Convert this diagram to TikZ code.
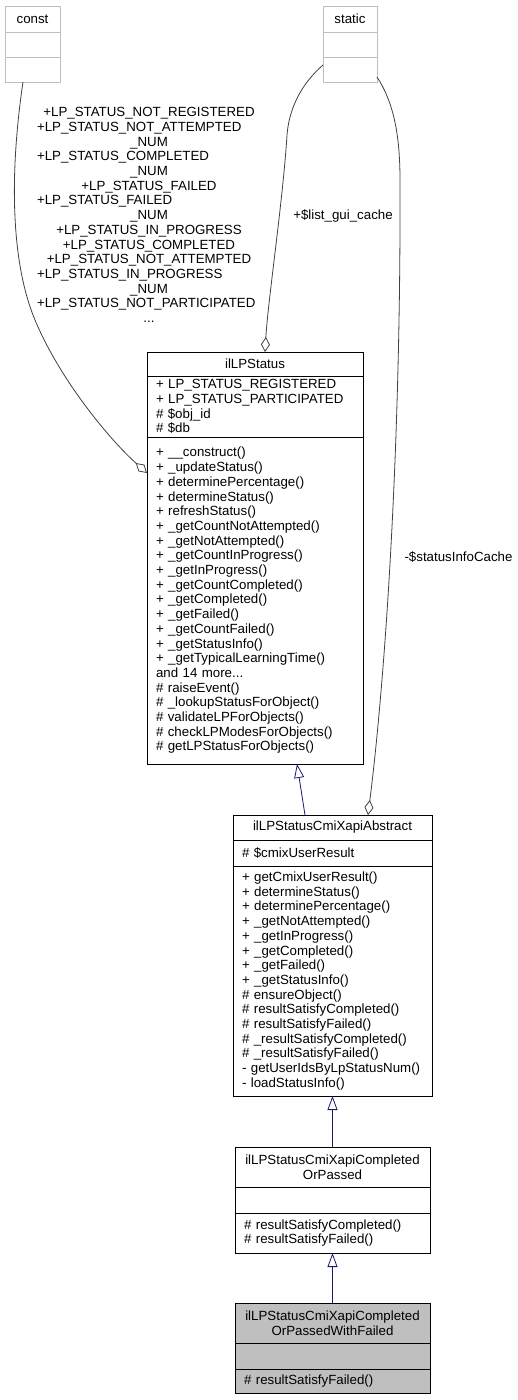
\documentclass[tikz,border=0pt]{standalone}
\usepackage{fontspec}
\setmainfont{Liberation Sans}
\usetikzlibrary{positioning,arrows.meta}
\definecolor{edgegray}{HTML}{404040}
\definecolor{inhblue}{HTML}{191970}
\definecolor{boxgray}{HTML}{BFBFBF}
\newcommand{\lft}[1]{\makebox[224pt][l]{#1}}
\tikzset{%
  part/.style    = {draw, rectangle, inner xsep=9pt, inner ysep=1pt, outer sep=0pt,
    align=left, font=\fontsize{13.3}{14.7}\selectfont},
  head/.style    = {part, align=center}, % class name
  ext/.style     = {draw=boxgray, rectangle, inner sep=0pt, outer sep=0pt,
    font=\fontsize{13.3}{14.7}\selectfont},
  lbl/.style     = {inner sep=0pt, font=\fontsize{13.3}{14.7}\selectfont},
  inherit/.style = {draw=inhblue, -{Triangle[open, length=14pt, width=10pt]}},
  aggr/.style    = {draw=edgegray, -{Diamond[open, length=15pt, width=9pt]}}
}
\begin{document}
\begin{tikzpicture}[x=1pt, y=-1pt, node distance=0pt, line width=0.8pt]
\useasboundingbox (0,0) rectangle (518,1400);
\draw
	node at(32.5,6)[ext, anchor=north, minimum width=55pt, minimum height=26pt, name=constT]{const}
	node [ext, minimum width=55pt, minimum height=25pt, below=of constT, name=constA]{}
	node [ext, minimum width=55pt, minimum height=25pt, below=of constA, name=constM]{};
\draw
	node at(350,6)[ext, anchor=north, minimum width=54pt, minimum height=26pt, name=staticT]{static}
	node [ext, minimum width=54pt, minimum height=25pt, below=of staticT, name=staticA]{}
	node [ext, minimum width=54pt, minimum height=25pt, below=of staticA, name=staticM]{};
\draw
	node at(255,352)[head, text width=198pt, minimum height=24pt, anchor=north, name=statusT]{ilLPStatus}
	node [part, text width=198pt, minimum height=61pt, below=of statusT, name=statusA]{+ LP\_STATUS\_REGISTERED\\+ LP\_STATUS\_PARTICIPATED\\\# \$obj\_id\\\# \$db}
	node [part, text width=198pt, minimum height=327pt, below=of statusA, name=statusM]{+ \_\_construct()\\+ \_updateStatus()\\+ determinePercentage()\\+ determineStatus()\\+ refreshStatus()\\+ \_getCountNotAttempted()\\+ \_getNotAttempted()\\+ \_getCountInProgress()\\+ \_getInProgress()\\+ \_getCountCompleted()\\+ \_getCompleted()\\+ \_getFailed()\\+ \_getCountFailed()\\+ \_getStatusInfo()\\+ \_getTypicalLearningTime()\\and 14 more...\\\# raiseEvent()\\\# \_lookupStatusForObject()\\\# validateLPForObjects()\\\# checkLPModesForObjects()\\\# getLPStatusForObjects()};
\draw
	node at(332.5,815)[head, text width=181pt, minimum height=25pt, anchor=north, name=absT]{ilLPStatusCmiXapiAbstract}
	node [part, text width=181pt, minimum height=26pt, below=of absT, name=absA]{\# \$cmixUserResult}
	node [part, text width=181pt, minimum height=230pt, below=of absA, name=absM]{+ getCmixUserResult()\\+ determineStatus()\\+ determinePercentage()\\+ \_getNotAttempted()\\+ \_getInProgress()\\+ \_getCompleted()\\+ \_getFailed()\\+ \_getStatusInfo()\\\# ensureObject()\\\# resultSatisfyCompleted()\\\# resultSatisfyFailed()\\\# \_resultSatisfyCompleted()\\\# \_resultSatisfyFailed()\\- getUserIdsByLpStatusNum()\\- loadStatusInfo()};
\draw
	node at(332.5,1147)[head, text width=177pt, minimum height=40pt, anchor=north, name=copT]{ilLPStatusCmiXapiCompleted\\OrPassed}
	node [part, text width=177pt, minimum height=26pt, below=of copT, name=copA]{}
	node [part, text width=177pt, minimum height=40pt, below=of copA, name=copM]{\# resultSatisfyCompleted()\\\# resultSatisfyFailed()};
\draw
	node at(332.5,1303)[head, fill=boxgray, text width=177pt, minimum height=40pt, anchor=north, name=finT]{ilLPStatusCmiXapiCompleted\\OrPassedWithFailed}
	node [part, fill=boxgray, text width=177pt, minimum height=26pt, below=of finT, name=finA]{}
	node [part, fill=boxgray, text width=177pt, minimum height=24pt, below=of finA, name=finM]{\# resultSatisfyFailed()};
% member labels
\node [lbl, text width=224pt, align=center, name=constlbl] at (149,215) {+LP\_STATUS\_NOT\_REGISTERED\\\lft{+LP\_STATUS\_NOT\_ATTEMPTED}\\\_NUM\\\lft{+LP\_STATUS\_COMPLETED}\\\_NUM\\+LP\_STATUS\_FAILED\\\lft{+LP\_STATUS\_FAILED}\\\_NUM\\+LP\_STATUS\_IN\_PROGRESS\\+LP\_STATUS\_COMPLETED\\+LP\_STATUS\_NOT\_ATTEMPTED\\\lft{+LP\_STATUS\_IN\_PROGRESS}\\\_NUM\\\lft{+LP\_STATUS\_NOT\_PARTICIPATED}\\...};
\node [lbl, name=listlbl] at (343,216) {+\$list\_gui\_cache};
\node [lbl, name=cachelbl] at (458.5,557) {-\$statusInfoCache};
% usage
\draw[aggr] ([xshift=-9.5pt]constM.south) .. controls (10,170) and (10,260) .. (35,320) .. controls (60,380) and (110,440) .. ([yshift=127.5pt]statusM.west);
\draw[aggr] ([yshift=4.5pt]staticM.west) .. controls (300,85) and (289,110) .. (287,135) .. controls (283,200) and (268,300) .. ([xshift=10pt]statusT.north);
\draw[aggr] ([yshift=-7.5pt]staticM.east) .. controls (392,100) and (400,130) .. (400,180) .. controls (401,450) and (385,680) .. ([xshift=35.5pt]absT.north);
% inheritance
\draw[inherit] ([xshift=-27.5pt]absT.north) -- ([xshift=42pt]statusM.south);
\draw[inherit] (copT.north) -- (absM.south);
\draw[inherit] (finT.north) -- (copM.south);
\end{tikzpicture}
\end{document}
